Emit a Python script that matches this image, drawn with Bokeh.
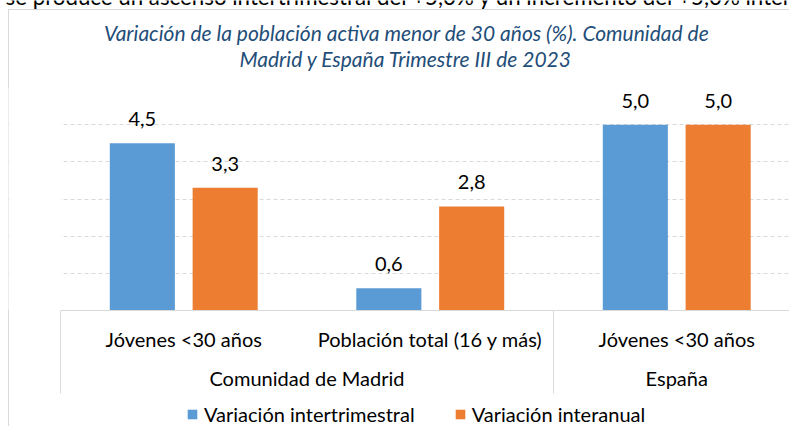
import numpy as np
from bokeh.plotting import figure
from bokeh.layouts import column
from bokeh.models import (Range1d, LinearAxis, FixedTicker, Grid, Legend, LegendItem,
                          ColumnDataSource, BoxAnnotation)
from bokeh.transform import dodge
from bokeh.core.properties import value
from bokeh.embed import file_html
from bokeh.resources import INLINE

# ---------------- data ----------------
groups = ["Comunidad de Madrid", "Comunidad de Madrid", "España"]
categories = ["Jóvenes <30 años", "Población total (16 y más)", "Jóvenes <30 años"]
series_names = ["Variación intertrimestral", "Variación interanual"]
intertrimestral = [4.5, 0.6, 5.0]
interanual = [3.3, 2.8, 5.0]
grid_ticks = [1, 2, 3, 4, 5, 6]
title_lines = ["Variación de la población activa menor de 30 años (%). Comunidad de",
               "Madrid y España Trimestre III de 2023"]
page_text = "se produce un ascenso intertrimestral del +5,0% y un incremento del +5,0% interanual"

# ---------------- style ----------------
FONT = "Lato"
BLUE = "#5B9BD5"
ORANGE = "#ED7D31"
GRID = "#D9D9D9"
TITLE_COLOR = "#1F4E79"
FS = "20px"
BAR_W = 0.264
OFF = 0.168
W = 789
TOP_H = 80
PX = 246.5          # pixels per category
LEFT = 60 / PX      # empty band left of the category axis (data units)

x_pos = np.arange(len(categories)) + 0.5
fmt = lambda v: f"{v:.1f}".replace(".", ",")

src = ColumnDataSource(dict(
    x=x_pos,
    v1=intertrimestral, v2=interanual,
    t1=[fmt(v) for v in intertrimestral], t2=[fmt(v) for v in interanual],
))

uniq = []
for g in groups:
    if g not in uniq:
        uniq.append(g)
group_centers = {}
boundaries = []
for g in uniq:
    idx = [i for i, gg in enumerate(groups) if gg == g]
    group_centers[float(np.mean(x_pos[idx]))] = g
    boundaries.append(float(min(idx)))
n_cat = float(len(categories))

# ---------------- title strip (pixel space, y downwards) ----------------
pt = figure(width=W, height=TOP_H, x_range=Range1d(0, W), y_range=Range1d(TOP_H, 0),
            x_axis_location=None, y_axis_location=None,
            output_backend="svg", toolbar_location=None, min_border=0,
            min_border_left=0, min_border_right=0, min_border_top=0, min_border_bottom=0,
            outline_line_color=None, background_fill_color=None, border_fill_color=None)
pt.grid.visible = False
pt.text(x=[406, 405.5], y=[31.5, 57.5], text=title_lines,
        text_font=value(FONT), text_font_style="italic", text_font_size="21px",
        text_color=TITLE_COLOR, text_align="center", text_baseline="middle")
pt.text(x=[5], y=[0.5], text=[page_text], y_offset=-5,
        text_font=value(FONT), text_font_size="22.3px", text_color="#000000",
        text_align="left", text_baseline="middle")

# ---------------- main chart ----------------
p = figure(width=W, height=402 - TOP_H,
           x_range=Range1d(-LEFT, (W - 60) / PX), y_range=Range1d(0, 6),
           x_axis_location=None, y_axis_location=None,
           output_backend="svg", toolbar_location=None,
           min_border_left=0, min_border_right=0, min_border_top=87 - TOP_H,
           min_border_bottom=92,
           outline_line_color=None, background_fill_color=None, border_fill_color=None)
p.grid.visible = False

grid = Grid(dimension=1, ticker=FixedTicker(ticks=grid_ticks),
            grid_line_color=GRID, grid_line_dash="4 3", grid_line_width=1)
p.add_layout(grid)
# blank bands left of the plot area (the chart box border line at x=8 stays visible)
p.add_layout(BoxAnnotation(left=(9 - 60) / PX, right=0, fill_color="white", fill_alpha=1,
                           line_color=None))
p.add_layout(BoxAnnotation(right=(8 - 60) / PX, fill_color="white", fill_alpha=1,
                           line_color=None))

p.vbar(x=dodge("x", -OFF), top="v1", width=BAR_W, source=src, fill_color=BLUE, line_color=None)
p.vbar(x=dodge("x", OFF), top="v2", width=BAR_W, source=src, fill_color=ORANGE, line_color=None)

for xf, tf, yf in ((-OFF, "t1", "v1"), (OFF, "t2", "v2")):
    p.text(x=dodge("x", xf), y=yf, text=tf, source=src,
           text_font=value(FONT), text_font_size=FS, text_color="#000000",
           text_align="center", text_baseline="middle", y_offset=-24)

# category axis (minor ticks draw the group separators)
ax1 = LinearAxis(ticker=FixedTicker(ticks=list(x_pos), minor_ticks=boundaries),
                 bounds=(0, n_cat))
ax1.major_label_overrides = {float(x): c for x, c in zip(x_pos, categories)}
ax1.axis_line_color = GRID
ax1.major_tick_line_color = None
ax1.major_tick_out = 0
ax1.major_tick_in = 0
ax1.minor_tick_line_color = GRID
ax1.minor_tick_out = 83
ax1.minor_tick_in = 0
ax1.major_label_standoff = -67
ax1.major_label_text_font = FONT
ax1.major_label_text_font_size = FS
ax1.major_label_text_color = "#000000"
p.add_layout(ax1, "below")

# group axis
ax2 = LinearAxis(ticker=FixedTicker(ticks=list(group_centers.keys()), minor_ticks=[]),
                 bounds=(0, n_cat))
ax2.major_label_overrides = group_centers
ax2.axis_line_color = None
ax2.major_tick_line_color = None
ax2.major_tick_out = 0
ax2.major_tick_in = 0
ax2.minor_tick_line_color = None
ax2.major_label_standoff = 12
ax2.major_label_text_font = FONT
ax2.major_label_text_font_size = FS
ax2.major_label_text_color = "#000000"
p.add_layout(ax2, "below")

# ---------------- legend strip ----------------
pl = figure(width=W, height=24, x_range=Range1d(0, 1), y_range=Range1d(100, 101),
            x_axis_location=None, y_axis_location=None,
            output_backend="svg", toolbar_location=None,
            min_border=0, min_border_left=0, min_border_right=0,
            min_border_top=0, min_border_bottom=0, outline_line_color=None,
            background_fill_color=None, border_fill_color=None)
pl.grid.visible = False
l1 = pl.vbar(x="x", top="v1", width=BAR_W, source=src, fill_color=BLUE, line_color=None)
l2 = pl.vbar(x="x", top="v2", width=BAR_W, source=src, fill_color=ORANGE, line_color=None)
legend = Legend(items=[LegendItem(label=series_names[0], renderers=[l1]),
                       LegendItem(label=series_names[1], renderers=[l2])],
                orientation="horizontal", location=(186, 0),
                glyph_width=12, glyph_height=12, label_standoff=6, spacing=39,
                padding=0, margin=0, border_line_color=None, background_fill_alpha=0,
                label_text_font=FONT, label_text_font_size=FS, label_text_color="#000000")
pl.add_layout(legend)

page = column(pt, p, pl, spacing=0)
page.styles = {
    "background-color": "white",
    "background-image": "linear-gradient(#D9D9D9, #D9D9D9), linear-gradient(#D9D9D9, #D9D9D9)",
    "background-size": "1px 100%, 100% 1px",
    "background-position": "8px 9px, 8px 9px",
    "background-repeat": "no-repeat",
}

open("out.html", "w").write(file_html(page, INLINE))
